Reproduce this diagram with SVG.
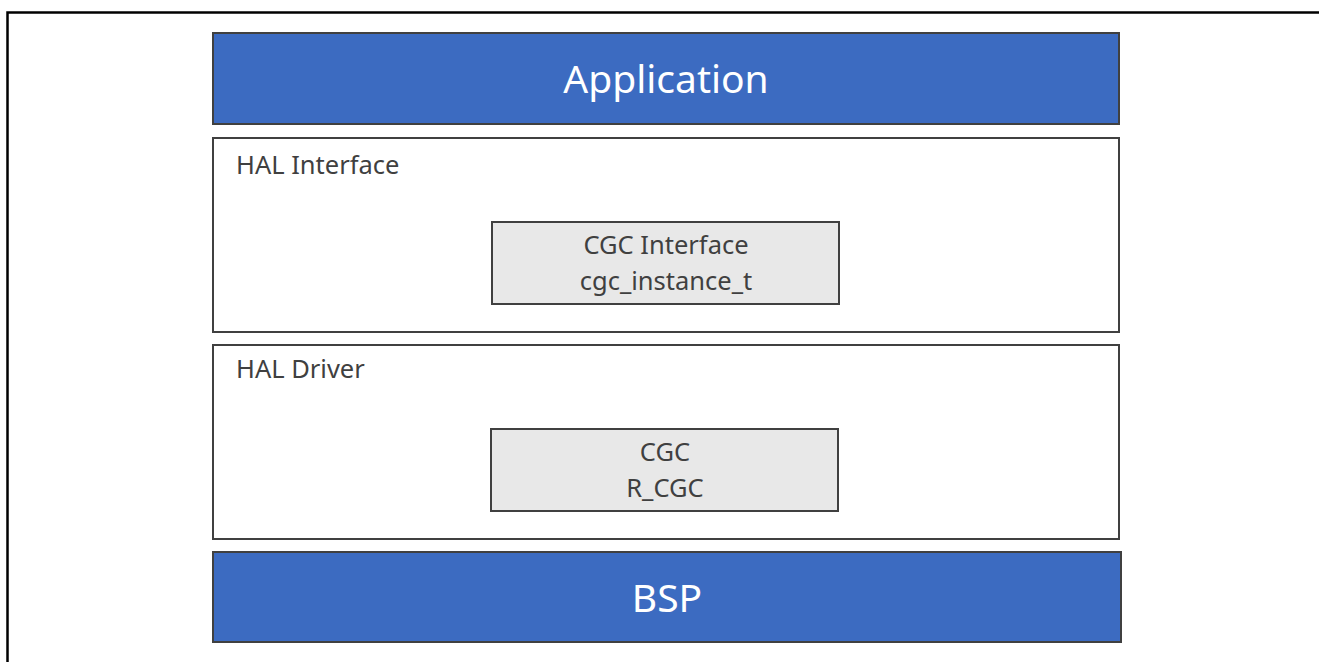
<svg xmlns="http://www.w3.org/2000/svg" width="1319" height="662" viewBox="0 0 1319 662">
<style>
.blue{fill:#3c6bc1;stroke:#404040;stroke-width:2}
.layer{fill:#ffffff;stroke:#404040;stroke-width:2}
.inner{fill:#e8e8e8;stroke:#404040;stroke-width:2}
.big{font-family:"Noto Sans","Open Sans",sans-serif;font-size:39px;fill:#ffffff;text-anchor:middle}
.lbl{font-family:"Noto Sans","Open Sans",sans-serif;font-size:25.5px;fill:#404040}
.mid{text-anchor:middle}
</style>
<rect width="1319" height="662" fill="#ffffff"/>
<path d="M7.5 662 V12.5 H1319" fill="none" stroke="#000000" stroke-width="2.5"/>
<g id="application">
<rect class="blue" x="213" y="33" width="906" height="91"/>
<text class="big" x="666" y="93">Application</text>
</g>
<g id="hal-interface">
<rect class="layer" x="213" y="138" width="906" height="194"/>
<text class="lbl" x="236" y="174">HAL Interface</text>
</g>
<g id="cgc-interface">
<rect class="inner" x="492" y="222" width="347" height="82"/>
<text class="lbl mid" x="666" y="254">CGC Interface</text>
<text class="lbl mid" x="666" y="290">cgc_instance_t</text>
</g>
<g id="hal-driver">
<rect class="layer" x="213" y="345" width="906" height="194"/>
<text class="lbl" x="236" y="378">HAL Driver</text>
</g>
<g id="cgc">
<rect class="inner" x="491" y="429" width="347" height="82"/>
<text class="lbl mid" x="665" y="461">CGC</text>
<text class="lbl mid" x="665" y="497">R_CGC</text>
</g>
<g id="bsp">
<rect class="blue" x="213" y="552" width="908" height="90"/>
<text class="big" x="667" y="612">BSP</text>
</g>
<g id="connectors"></g>
</svg>
